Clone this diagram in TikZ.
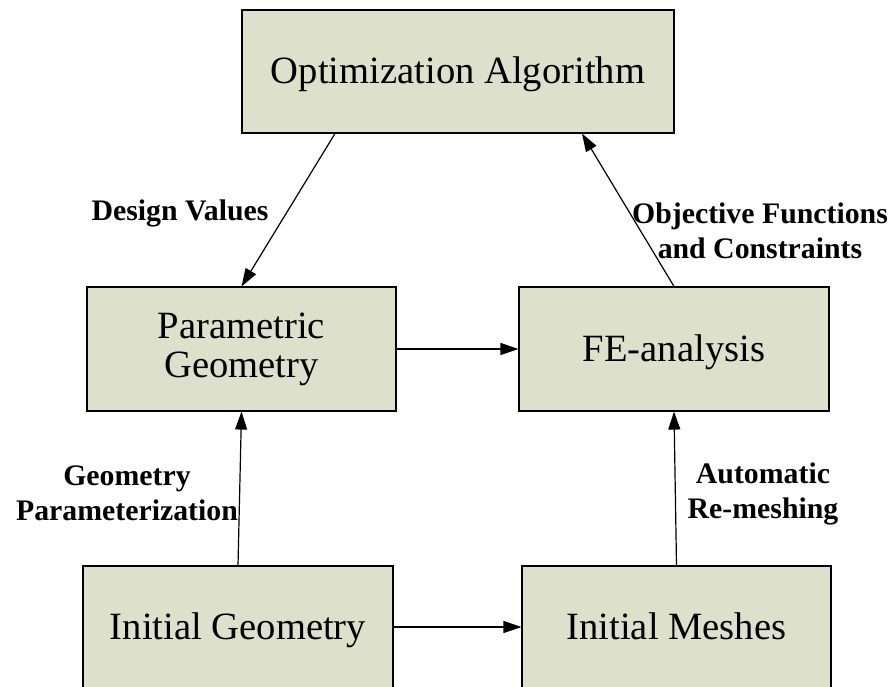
\documentclass[tikz,border=0pt]{standalone}
\usepackage{fontspec}
\setmainfont{Liberation Serif}
\usetikzlibrary{arrows.meta,calc}

\definecolor{boxfill}{RGB}{221,224,203}

\tikzset{
  x=1pt, y=-1pt,
  block/.style={draw=black, fill=boxfill, line width=1.1pt, rectangle,
    align=center, inner sep=0pt,
    font=\fontsize{38.6}{39}\selectfont},
  oneline/.style={block, text height=27pt, text depth=3pt},
  lbl/.style={align=center, inner sep=0pt,
    font=\fontsize{29.8}{35}\selectfont\bfseries},
  flow/.style={line width=1.2pt, -{Triangle[length=18pt,width=12pt]}}
}

\begin{document}
\begin{tikzpicture}
  \useasboundingbox (0,0) rectangle (893,686);
  \clip (0,0) rectangle (893,686);

  % process boxes
  \node[oneline, minimum width=432pt, minimum height=123pt] (opt) at (458,71.5) {Optimization Algorithm};
  \node[block, minimum width=309pt, minimum height=124pt] (par) at (241.5,349) {Parametric\\Geometry};
  \node[oneline, minimum width=310pt, minimum height=124pt] (fea) at (674,349) {FE-analysis};
  \node[oneline, minimum width=310pt, minimum height=122pt] (ig) at (238,627) {Initial Geometry};
  \node[oneline, minimum width=309pt, minimum height=122pt] (im) at (676.5,627) {Initial Meshes};

  % connectors
  \draw[flow] ([xshift=-123pt]opt.south) -- (par.north);
  \draw[flow] (fea.north) -- ([xshift=124pt]opt.south);
  \draw[flow] (par.east) -- (fea.west);
  \draw[flow] (ig.north) -- (par.south);
  \draw[flow] (im.north) -- (fea.south);
  \draw[flow] (ig.east) -- (im.west);

  % connector labels
  \node[lbl, anchor=base] (ldv) at (180,220) {Design Values};
  \node[lbl] (lobj) at (760,230.6) {Objective Functions\\and Constraints};
  \node[lbl] (lgp) at (127,493.6) {Geometry\\Parameterization};
  \node[lbl] (lrm) at (763,493.6) {Automatic\\Re-meshing};
\end{tikzpicture}
\end{document}
